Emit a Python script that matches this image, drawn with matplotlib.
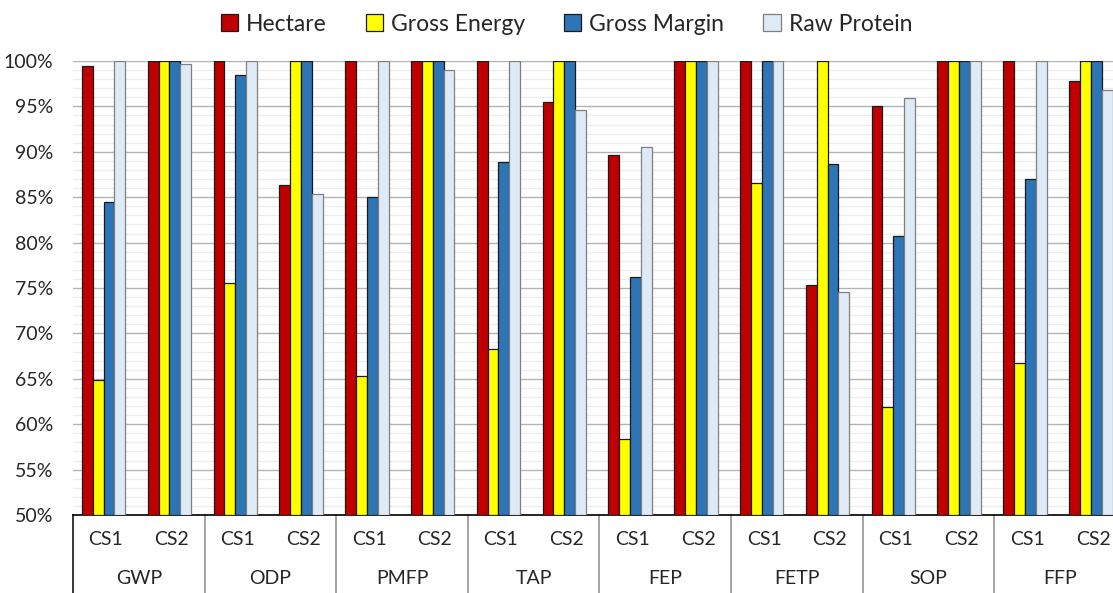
import numpy as np
import matplotlib
matplotlib.use("Agg")
from matplotlib import pyplot as plt
from matplotlib.ticker import MultipleLocator, PercentFormatter
from matplotlib.transforms import blended_transform_factory

plt.rcParams['font.family'] = ['Lato', 'DejaVu Sans']

categories = ["GWP", "ODP", "PMFP", "TAP", "FEP", "FETP", "SOP", "FFP"]
cases = ["CS1", "CS2"]
series = ["Hectare", "Gross Energy", "Gross Margin", "Raw Protein"]

# values per slot: GWP CS1, GWP CS2, ODP CS1, ODP CS2, ...
hectare = [99.4, 100, 100, 86.3, 100, 100, 100, 95.5,
           89.7, 100, 100, 75.3, 95.0, 100, 100, 97.8]
gross_energy = [64.9, 100, 75.5, 100, 65.3, 100, 68.3, 100,
                58.4, 100, 86.6, 100, 61.9, 100, 66.7, 100]
gross_margin = [84.5, 100, 98.5, 100, 85.0, 100, 88.9, 100,
                76.2, 100, 100, 88.7, 80.7, 100, 87.0, 100]
raw_protein = [100, 99.7, 100, 85.4, 100, 99.0, 100, 94.6,
               90.5, 100, 100, 74.6, 95.9, 100, 100, 96.8]

colors = ["#C00000", "#FFFF00", "#2E75B6", "#DEEBF7"]
edges = ["#1a1a1a", "#1a1a1a", "#1a1a1a", "#7f7f7f"]
txt = "#262626"

W, H = 1113, 593
fig = plt.figure(figsize=(W / 100, H / 100), dpi=100)
ax = fig.add_axes([73 / W, (H - 515) / H, 1053 / W, 454 / H])

n_slots = len(categories) * len(cases)
x = np.arange(n_slots) + 0.5
bw = 0.165
data = [hectare, gross_energy, gross_margin, raw_protein]
for i, (vals, name) in enumerate(zip(data, series)):
    ax.bar(x + (i - 1.5) * bw - 0.035, np.array(vals) - 50, bottom=50, width=bw,
           color=colors[i], edgecolor=edges[i], linewidth=0.9, label=name, zorder=3)

ax.set_xlim(0, n_slots)
ax.set_ylim(50, 100)
ax.yaxis.set_major_locator(MultipleLocator(5))
ax.yaxis.set_minor_locator(MultipleLocator(1))
ax.yaxis.set_major_formatter(PercentFormatter(decimals=0))
ax.grid(which="major", axis="y", color="#b4b4b4", linewidth=1.0, zorder=0)
ax.grid(which="minor", axis="y", color="#ececec", linewidth=0.9, zorder=0)
ax.tick_params(axis="y", which="both", length=0, labelsize=14, pad=14, labelcolor=txt)
ax.tick_params(axis="x", which="both", length=0, labelbottom=False)
for s in ["top", "right", "left"]:
    ax.spines[s].set_visible(False)
ax.spines["bottom"].set_color("black")
ax.spines["bottom"].set_linewidth(1.2)

# two-level x labels
tr = blended_transform_factory(ax.transData, ax.transAxes)
for k in range(n_slots):
    ax.text(x[k], -0.055, cases[k % 2], transform=tr, ha="center", va="center",
            fontsize=14, color=txt)
for g, cat in enumerate(categories):
    ax.text(2 * g + 1, -0.139, cat, transform=tr, ha="center", va="center",
            fontsize=14, color=txt)
    ax.plot([2 * g, 2 * g], [0, -0.2], transform=tr, clip_on=False,
            color="black" if g == 0 else "#8c8c8c", linewidth=1.1)

leg = fig.legend(loc="upper center", bbox_to_anchor=(0.509, 1.012), ncol=4, frameon=False,
                 fontsize=16.5, handlelength=0.75, handleheight=0.75, columnspacing=1.7,
                 handletextpad=0.35)
for t in leg.get_texts():
    t.set_color(txt)

fig.savefig("out.png", dpi=100)
